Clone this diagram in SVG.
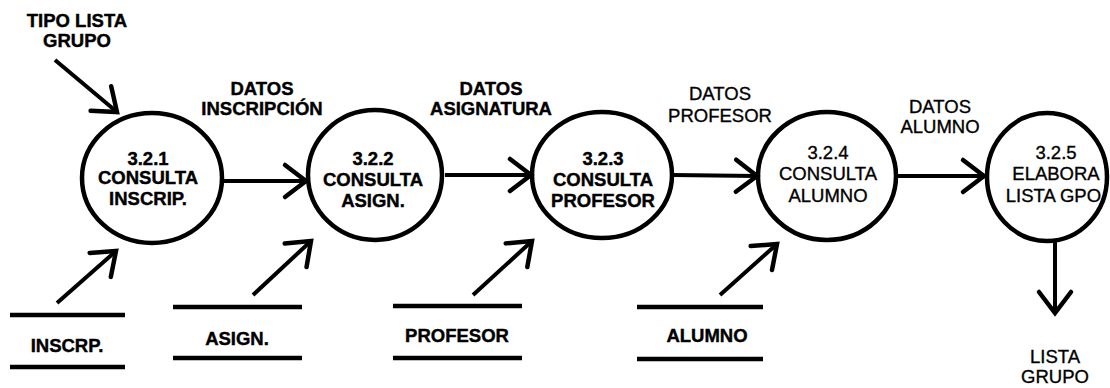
<svg xmlns="http://www.w3.org/2000/svg" width="1110" height="388" viewBox="0 0 1110 388">
<style>
  .proc { fill: none; stroke: #000; stroke-width: 4.5; }
  .flow { fill: none; stroke: #000; stroke-width: 4; marker-end: url(#ah); }
  .store { stroke: #000; stroke-width: 4.5; }
  text { font-family: "Liberation Sans", Arial, sans-serif; font-size: 18.5px; font-weight: bold; fill: #000; stroke: #000; stroke-width: 0.4; text-anchor: middle; }
  .lt { font-weight: normal; stroke-width: 0.35; }
</style>
<defs>
  <marker id="ah" markerUnits="userSpaceOnUse" markerWidth="30" markerHeight="40" viewBox="-26 -20 30 40" refX="0" refY="0" orient="auto" overflow="visible">
    <path d="M-21,-16 L0,0 L-21,16" fill="none" stroke="#000" stroke-width="4.5" stroke-linecap="round"/>
  </marker>
</defs>
<rect width="1110" height="388" fill="#fff"/>

<g id="connectors">
  <line class="flow" x1="55" y1="60" x2="117" y2="112"/>
  <line class="flow" x1="222" y1="181" x2="306" y2="181"/>
  <line class="flow" x1="445" y1="175" x2="531" y2="175"/>
  <line class="flow" x1="672" y1="175" x2="757" y2="176"/>
  <line class="flow" x1="897" y1="176" x2="984" y2="176"/>
  <line class="flow" x1="1055" y1="240" x2="1055" y2="313"/>
  <line class="flow" x1="57" y1="303" x2="116" y2="251"/>
  <line class="flow" x1="253" y1="295" x2="311" y2="241"/>
  <line class="flow" x1="473" y1="295" x2="532" y2="241"/>
  <line class="flow" x1="720" y1="295" x2="777" y2="244"/>
</g>

<g id="label-tipo-lista-grupo">
  <text x="77" y="27">TIPO LISTA</text>
  <text x="77" y="47">GRUPO</text>
</g>
<g id="label-datos-inscripcion">
  <text x="262" y="95">DATOS</text>
  <text x="262" y="115">INSCRIPCIÓN</text>
</g>
<g id="label-datos-asignatura">
  <text x="491" y="95">DATOS</text>
  <text x="491" y="115">ASIGNATURA</text>
</g>
<g id="label-datos-profesor">
  <text class="lt" x="720" y="100">DATOS</text>
  <text class="lt" x="720" y="122">PROFESOR</text>
</g>
<g id="label-datos-alumno">
  <text class="lt" x="940" y="113">DATOS</text>
  <text class="lt" x="940" y="133">ALUMNO</text>
</g>
<g id="label-lista-grupo">
  <text class="lt" x="1055" y="363">LISTA</text>
  <text class="lt" x="1055" y="383">GRUPO</text>
</g>

<g id="p321">
  <ellipse class="proc" cx="152" cy="178" rx="70" ry="65"/>
  <text x="148" y="165">3.2.1</text>
  <text x="148" y="184">CONSULTA</text>
  <text x="148" y="205">INSCRIP.</text>
</g>
<g id="p322">
  <ellipse class="proc" cx="375" cy="175" rx="67" ry="65"/>
  <text x="373" y="165">3.2.2</text>
  <text x="373" y="186">CONSULTA</text>
  <text x="373" y="207">ASIGN.</text>
</g>
<g id="p323">
  <ellipse class="proc" cx="602" cy="175" rx="70" ry="63"/>
  <text x="603" y="165">3.2.3</text>
  <text x="603" y="186">CONSULTA</text>
  <text x="603" y="207">PROFESOR</text>
</g>
<g id="p324">
  <ellipse class="proc" cx="827" cy="176" rx="69" ry="64"/>
  <text class="lt" x="828" y="159">3.2.4</text>
  <text class="lt" x="828" y="180">CONSULTA</text>
  <text class="lt" x="828" y="202">ALUMNO</text>
</g>
<g id="p325">
  <ellipse class="proc" cx="1047" cy="177" rx="60" ry="64"/>
  <text class="lt" x="1056" y="159">3.2.5</text>
  <text class="lt" x="1056" y="180">ELABORA</text>
  <text class="lt" x="1056" y="202">LISTA GPO.</text>
</g>

<g id="ds-inscrp">
  <line class="store" x1="10" y1="315" x2="125" y2="315"/>
  <line class="store" x1="10" y1="367" x2="125" y2="367"/>
  <text x="67" y="352">INSCRP.</text>
</g>
<g id="ds-asign">
  <line class="store" x1="173" y1="307" x2="302" y2="307"/>
  <line class="store" x1="173" y1="358" x2="302" y2="358"/>
  <text x="237" y="345">ASIGN.</text>
</g>
<g id="ds-profesor">
  <line class="store" x1="393" y1="306" x2="522" y2="306"/>
  <line class="store" x1="393" y1="358" x2="522" y2="358"/>
  <text x="457" y="342">PROFESOR</text>
</g>
<g id="ds-alumno">
  <line class="store" x1="637" y1="307" x2="763" y2="307"/>
  <line class="store" x1="637" y1="359" x2="763" y2="359"/>
  <text x="707" y="342">ALUMNO</text>
</g>
</svg>
